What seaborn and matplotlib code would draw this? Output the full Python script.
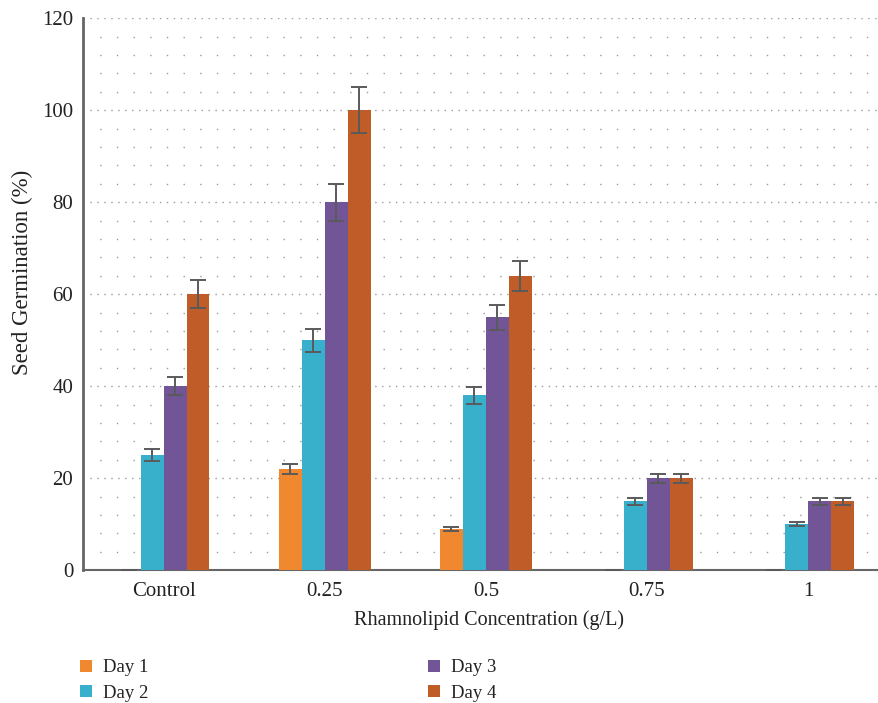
import matplotlib
matplotlib.use("Agg")
import matplotlib.pyplot as plt
from matplotlib.patches import Patch
import seaborn as sns
import pandas as pd

concentrations = ["Control", "0.25", "0.5", "0.75", "1"]
days = ["Day 1", "Day 2", "Day 3", "Day 4"]
day1 = [0, 22, 9, 0, 0]
day2 = [25, 50, 38, 15, 10]
day3 = [40, 80, 55, 20, 15]
day4 = [60, 100, 64, 20, 15]
err1 = [0, 1.1, 0.45, 0, 0]
err2 = [1.25, 2.5, 1.9, 0.75, 0.5]
err3 = [2.0, 4.0, 2.75, 1.0, 0.75]
err4 = [3.0, 5.0, 3.2, 1.0, 0.75]
colors = ["#F0882F", "#38B0CB", "#725597", "#C05C27"]

values = [day1, day2, day3, day4]
errors = [err1, err2, err3, err4]
rows = []
for d, vals in zip(days, values):
    for c, v in zip(concentrations, vals):
        rows.append({"Concentration": c, "Day": d, "Germination": v})
df = pd.DataFrame(rows)

sns.set_theme(style="white")
plt.rcParams["font.family"] = ["Liberation Serif", "DejaVu Serif"]

fig = plt.figure(figsize=(8.79, 7.03), dpi=100)
ax = fig.add_axes([0.0944, 0.189, 0.9056, 0.785])

sns.barplot(data=df, x="Concentration", y="Germination", hue="Day",
            order=concentrations, hue_order=days, palette=colors,
            errorbar=None, width=0.57, saturation=1, legend=False, ax=ax,
            linewidth=0, zorder=3)

# error bars at each bar's centre
for cont, errs in zip(ax.containers, errors):
    xs = [p.get_x() + p.get_width() / 2 for p in cont.patches]
    hs = [p.get_height() for p in cont.patches]
    ax.errorbar(xs, hs, yerr=errs, fmt="none", ecolor="#5a5a5a",
                elinewidth=1.4, capsize=5.5, capthick=1.4, zorder=4)

ax.set_ylim(0, 120)
ax.set_xlim(-0.5, 4.44)
ax.set_yticks(range(0, 121, 20))
ax.set_yticks(range(0, 121, 4), minor=True)
ax.grid(axis="y", which="major", color="#9a9a9a", linestyle=(0, (1, 4)), linewidth=1.0, zorder=0)
ax.grid(axis="y", which="minor", color="#9a9a9a", linestyle=(0, (1, 11)), linewidth=1.0, zorder=0)
ax.grid(axis="x", visible=False)
ax.set_axisbelow(True)

for s in ["top", "right"]:
    ax.spines[s].set_visible(False)
ax.spines["left"].set_color("#666666")
ax.spines["left"].set_linewidth(2)
ax.spines["bottom"].set_color("#666666")
ax.spines["bottom"].set_linewidth(1.5)
ax.tick_params(axis="both", which="both", length=0, labelsize=15, colors="#222222")
ax.tick_params(axis="y", pad=7)
ax.tick_params(axis="x", pad=8.5)

ax.set_xlabel("Rhamnolipid Concentration (g/L)", fontsize=14.5, color="#222222")
ax.set_ylabel("Seed Germination (%)", fontsize=16.5, color="#222222")
ax.xaxis.set_label_coords(0.51, -0.0725)
ax.yaxis.set_label_coords(-0.063, 0.54)

handles = [Patch(facecolor=c, edgecolor="none") for c in colors]
leg = fig.legend(handles, days, loc="upper left", bbox_to_anchor=(0.091, 0.062),
                 ncol=2, frameon=False, fontsize=13.5, handlelength=0.64,
                 handleheight=0.64, columnspacing=14.9, labelspacing=0.45,
                 handletextpad=0.59, borderaxespad=0, borderpad=0)
for t in leg.get_texts():
    t.set_color("#222222")

fig.savefig("out.png", dpi=100)
